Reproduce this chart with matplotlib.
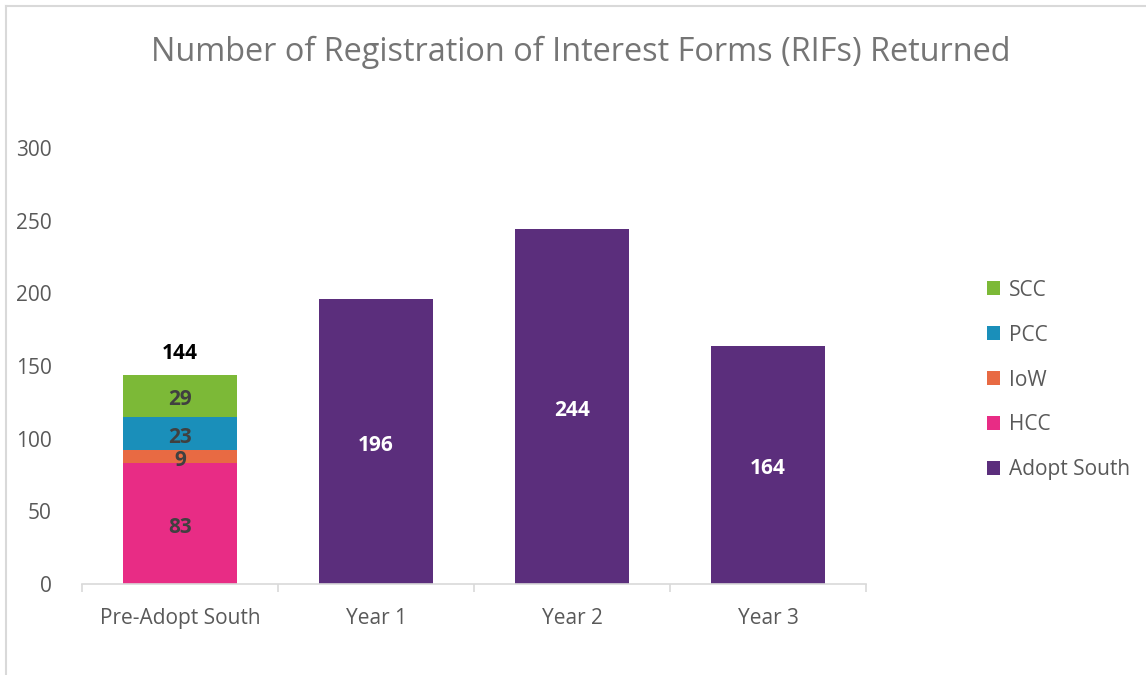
import matplotlib
matplotlib.use("Agg")
import matplotlib.pyplot as plt
from matplotlib.lines import Line2D
from matplotlib.patches import Patch
import numpy as np

plt.rcParams['font.family'] = ['Open Sans', 'DejaVu Sans']

categories = ["Pre-Adopt South", "Year 1", "Year 2", "Year 3"]
hcc = [83, 0, 0, 0]
iow = [9, 0, 0, 0]
pcc = [23, 0, 0, 0]
scc = [29, 0, 0, 0]
adopt_south = [0, 196, 244, 164]
pre_total = 144

series = [
    ("HCC", hcc, "#E82C85"),
    ("IoW", iow, "#E86A43"),
    ("PCC", pcc, "#1A8FBA"),
    ("SCC", scc, "#7CB937"),
    ("Adopt South", adopt_south, "#5B2E7C"),
]
legend_order = ["SCC", "PCC", "IoW", "HCC", "Adopt South"]

fig = plt.figure(figsize=(11.46, 6.75), dpi=100)
ax = fig.add_axes([82/1146, 1-584/675, 784/1146, 436/675])

x = np.arange(len(categories))
width = 0.577
bottom = np.zeros(len(categories))
for name, vals, col in series:
    vals = np.array(vals, dtype=float)
    ax.bar(x, vals, width, bottom=bottom, color=col, label=name)
    for xi, v, b in zip(x, vals, bottom):
        if v > 0:
            tc = "white" if name == "Adopt South" else "#404040"
            ax.annotate(f"{int(v)}", (xi, b + v/2), xytext=(0, -2.5), textcoords="offset points",
                        ha="center", va="center", fontsize=15, fontweight="bold", color=tc)
    bottom += vals

ax.annotate(f"{pre_total}", (x[0], pre_total), xytext=(0, 8), textcoords="offset points",
            ha="center", va="bottom", fontsize=15, fontweight="bold", color="black")

ax.set_xlim(-0.5, len(categories) - 0.5)
ax.set_ylim(0, 300)
ax.set_yticks(np.arange(0, 301, 50))
ax.set_xticks(x)
ax.set_xticklabels(categories)
for s in ["top", "right", "left"]:
    ax.spines[s].set_visible(False)
ax.spines["bottom"].set_color("#D9D9D9")
ax.spines["bottom"].set_linewidth(1.2)
ax.tick_params(axis="y", length=0, labelsize=15, labelcolor="#595959", pad=22)
ax.tick_params(axis="x", length=0, labelsize=15, labelcolor="#595959", pad=17)
ax.set_xticks(np.arange(-0.5, len(categories), 1.0), minor=True)
ax.tick_params(axis="x", which="minor", length=6, color="#D9D9D9", width=1.2)

colmap = {n: c for n, _, c in series}
handles = [Patch(facecolor=colmap[n], label=n) for n in legend_order]
fig.legend(handles=handles, loc="center left", bbox_to_anchor=(968/1146, 1-380/675),
           frameon=False, fontsize=15, labelcolor="#595959", handlelength=0.65,
           handleheight=0.65, handletextpad=0.4, labelspacing=1.15)

fig.text(581/1146, 1-52/675, "Number of Registration of Interest Forms (RIFs) Returned",
         ha="center", va="center", fontsize=23.4, color="#757575")

fig.add_artist(Line2D([6/1146, 6/1146], [0, 1-6/675], transform=fig.transFigure, color="#D9D9D9", lw=1.5))
fig.add_artist(Line2D([6/1146, 1], [1-6/675, 1-6/675], transform=fig.transFigure, color="#D9D9D9", lw=1.5))

fig.savefig("out.png", dpi=100)
